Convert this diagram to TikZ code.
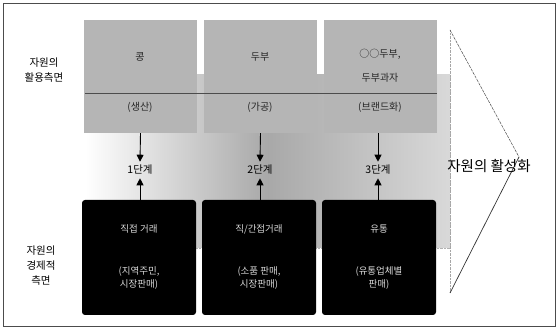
\documentclass[tikz,border=0pt]{standalone}
\usepackage{fontspec}
\setmainfont{Noto Sans CJK KR}
\usetikzlibrary{arrows.meta}
\begin{document}
\begin{tikzpicture}[x=1pt,y=-1pt,
  topbox/.style={draw=none,fill=gray!58,minimum width=113pt,minimum height=113pt,inner sep=0pt},
  botbox/.style={fill=black,rounded corners=3pt,minimum width=114pt,minimum height=115pt,inner sep=0pt},
  side/.style={font=\fontsize{10.5}{12}\selectfont,align=center,text=black},
  toptxt/.style={font=\fontsize{10}{11}\selectfont,text=black!85},
  bottxt/.style={font=\fontsize{9.5}{11}\selectfont,text=white!85!black},
  steptxt/.style={font=\fontsize{10.5}{12}\selectfont,text=black},
  arr/.style={-{Triangle[length=7pt,width=7pt]},line width=0.9pt}
]
\useasboundingbox (0,0) rectangle (558,331);
% outer frame
\draw[line width=1pt,black!70] (3,4) rectangle (555,327);
% gradient background block
\shade[left color=white,right color=gray!30,middle color=gray!68] (85,75) rectangle (450,248);
\draw[densely dotted,gray!60] (196,248) -- (450,248) -- (450,75);
% top boxes
\node[topbox] (t1) at (140.5,76.5) {};
\node[topbox] (t2) at (260.5,76.5) {};
\node[topbox] (t3) at (380.5,76.5) {};
\draw[black!70,line width=0.7pt] (85,93) -- (437,93);
\node[toptxt] (t1a) at (140,57) {콩};
\node[toptxt] (t1b) at (140,107) {(생산)};
\node[toptxt] (t2a) at (260,57) {두부};
\node[toptxt] (t2b) at (260,107) {(가공)};
\node[toptxt] (t3a) at (380,54) {○○두부,};
\node[toptxt] (t3b) at (380,78) {두부과자};
\node[toptxt] (t3c) at (380,107) {(브랜드화)};
% bottom boxes
\node[botbox] (b1) at (139,257.5) {};
\node[botbox] (b2) at (259,257.5) {};
\node[botbox] (b3) at (379,257.5) {};
\node[bottxt] (b1a) at (139,229) {직접 거래};
\node[bottxt,align=center] (b1b) at (139,278) {(지역주민,\\[2pt]시장판매)};
\node[bottxt] (b2a) at (259,229) {직/간접거래};
\node[bottxt,align=center] (b2b) at (259,278) {(소품 판매,\\[2pt]시장판매)};
\node[bottxt] (b3a) at (379,229) {유통};
\node[bottxt,align=center] (b3b) at (379,278) {(유통업체별\\[2pt]판매)};
% side labels
\node[side] (l1) at (44,70) {자원의\\[3pt]활용측면};
\node[side] (l2) at (41,266) {자원의\\[3pt]경제적\\[3pt]측면};
% step labels
\node[steptxt] (s1) at (140,170) {1단계};
\node[steptxt] (s2) at (260,170) {2단계};
\node[steptxt] (s3) at (378,170) {3단계};
\draw[arr] (t1.south) -- (s1.north);
\draw[arr] (t2.south) -- (s2.north);
\draw[arr] (t3.south -| s3) -- (s3.north);
\draw[arr] (b1.north -| s1) -- (s1.south);
\draw[arr] (b2.north -| s2) -- (s2.south);
\draw[arr] (b3.north -| s3) -- (s3.south);
% big chevron
\coordinate (c1) at (450,30);
\coordinate (c2) at (519,157);
\coordinate (c3) at (450,293);
\draw[densely dotted,gray!70] (c1) -- (c3);
\draw[dash pattern=on 3pt off 1pt,black!70,line width=0.5pt] (c1) -- (c2);
\draw[black!80,line width=0.7pt] (c2) -- (c3);
\node[font=\fontsize{14.5}{16}\selectfont] (act) at (489,166) {자원의 활성화};
\end{tikzpicture}
\end{document}
